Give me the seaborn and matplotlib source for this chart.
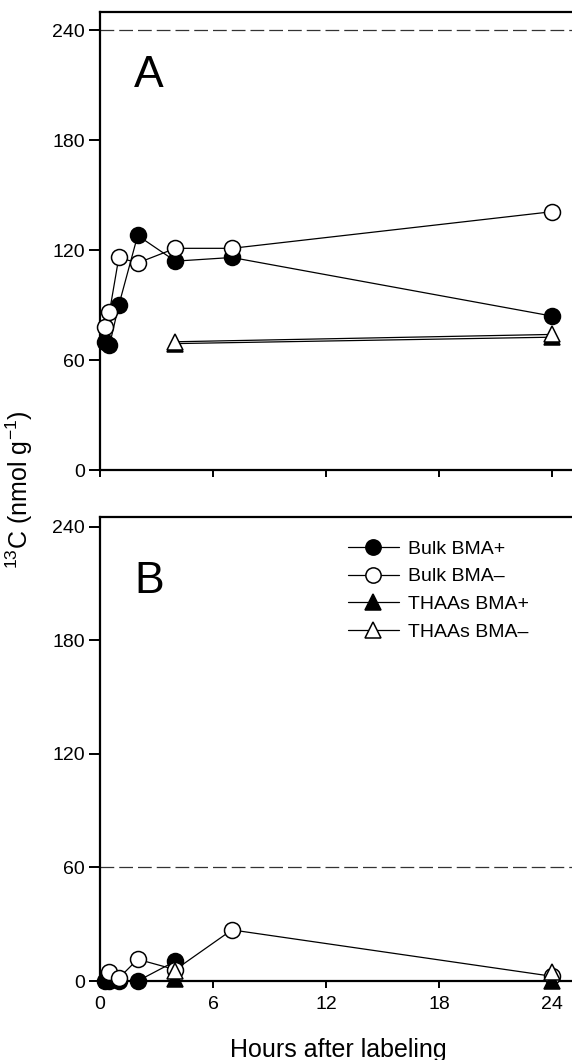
import matplotlib
matplotlib.use("Agg")
import matplotlib.pyplot as plt
import seaborn as sns

# Data (hours after labeling, 13C nmol/g)
HOURS_A_BULK = [0.25, 0.5, 1, 2, 4, 7, 24]
A_BULK_PLUS = [70, 68, 90, 128, 114, 116, 84]
A_BULK_MINUS = [78, 86, 116, 113, 121, 121, 141]
HOURS_A_THAA = [4, 24]
A_THAA_PLUS = [69, 72.5]
A_THAA_MINUS = [70, 74]

HOURS_B_BULK_PLUS = [0.25, 0.5, 1, 2, 4]
B_BULK_PLUS = [0, 0, 0, 0, 10.5]
HOURS_B_BULK_MINUS = [0.5, 1, 2, 4, 7, 24]
B_BULK_MINUS = [5, 1.5, 11.5, 6, 27, 2.5]
HOURS_B_THAA = [4, 24]
B_THAA_PLUS = [1, 0]
B_THAA_MINUS = [5.5, 5]

X_TICKS = [0, 6, 12, 18, 24]
Y_TICKS = [0, 60, 120, 180, 240]
REF_LINES = {"A": 240, "B": 60}
LABELS = ["Bulk BMA+", "Bulk BMA\u2013", "THAAs BMA+", "THAAs BMA\u2013"]

sns.set_style("ticks")
plt.rcParams["font.family"] = ["Liberation Sans", "DejaVu Sans"]
plt.rcParams["mathtext.fontset"] = "custom"
plt.rcParams["mathtext.rm"] = "Liberation Sans"
plt.rcParams["mathtext.default"] = "regular"
for key in ["text.color", "axes.labelcolor", "xtick.color", "ytick.color"]:
    plt.rcParams[key] = "black"

fig = plt.figure(figsize=(5.72, 10.6), dpi=100)
ax_a = fig.add_axes([0.1748, 0.5566, 0.84, 0.4321])
ax_b = fig.add_axes([0.1748, 0.0745, 0.84, 0.4377])


def draw_series(ax, x, y, marker, filled, label, z, line=True):
    sns.lineplot(x=x, y=y, ax=ax, color="black",
                 linewidth=0.9 if line else 0, linestyle="-" if line else "",
                 marker=marker, markersize=11.5 if marker == "o" else 12,
                 markerfacecolor="black" if filled else "white",
                 markeredgecolor="black", markeredgewidth=1.1,
                 estimator=None, sort=False, label=label,
                 clip_on=False, zorder=z)


def style_axes(ax, ytop, letter, letter_y, show_xlabels):
    ax.set_xlim(0, 25.5)
    ax.set_ylim(0, ytop)
    ax.set_xticks(X_TICKS)
    ax.set_yticks(Y_TICKS)
    ax.axhline(REF_LINES[letter], color="#333333", linewidth=0.9,
               dashes=(11, 4), zorder=1)
    for side in ["left", "bottom", "top"]:
        ax.spines[side].set_linewidth(1.6)
        ax.spines[side].set_color("black")
    ax.spines["right"].set_visible(False)
    ax.tick_params(axis="y", length=8, width=1.4, labelsize=14, pad=3)
    ax.tick_params(axis="x", length=5, width=1.4, labelsize=14, pad=6,
                   labelbottom=show_xlabels)
    ax.text(0.102, letter_y, letter, transform=ax.transAxes, fontsize=32,
            ha="center", va="center")
    ax.set_xlabel("")
    ax.set_ylabel("")


# Panel A
draw_series(ax_a, HOURS_A_BULK, A_BULK_PLUS, "o", True, None, 3)
draw_series(ax_a, HOURS_A_BULK, A_BULK_MINUS, "o", False, None, 4)
draw_series(ax_a, HOURS_A_THAA, A_THAA_PLUS, "^", True, None, 5)
draw_series(ax_a, HOURS_A_THAA, A_THAA_MINUS, "^", False, None, 6)
style_axes(ax_a, 250, "A", 0.862, False)

# Panel B
draw_series(ax_b, HOURS_B_BULK_PLUS, B_BULK_PLUS, "o", True, LABELS[0], 3)
draw_series(ax_b, HOURS_B_BULK_MINUS, B_BULK_MINUS, "o", False, LABELS[1], 4)
draw_series(ax_b, HOURS_B_THAA, B_THAA_PLUS, "^", True, LABELS[2], 5, line=False)
draw_series(ax_b, HOURS_B_THAA, B_THAA_MINUS, "^", False, LABELS[3], 6, line=False)
style_axes(ax_b, 245, "B", 0.862, True)

leg = ax_b.legend(frameon=False, loc="upper left", bbox_to_anchor=(0.5, 0.967),
                  fontsize=14, handlelength=2.6, handletextpad=0.5,
                  labelspacing=0.52, borderaxespad=0)
for h in leg.legend_handles:
    h.set_markersize(11)
    h.set_linestyle("-")
    h.set_linewidth(0.9)

fig.text(0.034, 0.538, "$^{13}$C (nmol g$^{-1}$)", rotation=90, fontsize=18,
         ha="center", va="center")
fig.text(0.591, 0.003, "Hours after labeling", fontsize=18,
         ha="center", va="baseline")

fig.savefig("out.png", dpi=100)
